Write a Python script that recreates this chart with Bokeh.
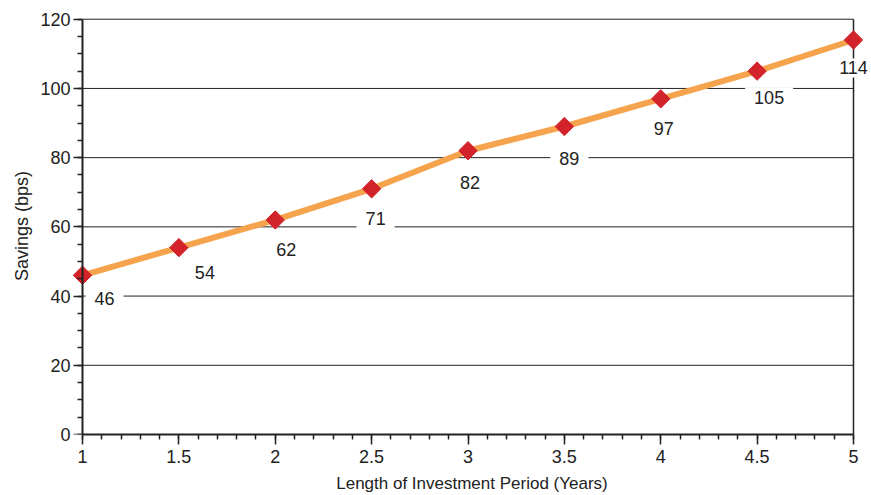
from bokeh.plotting import figure
from bokeh.models import ColumnDataSource, FixedTicker, Range1d, LinearAxis
from bokeh.embed import file_html
from bokeh.resources import INLINE
from bokeh.core.properties import value
import math

# ---- data ----
years = [1, 1.5, 2, 2.5, 3, 3.5, 4, 4.5, 5]
savings = [46, 54, 62, 71, 82, 89, 97, 105, 114]
labels = [str(v) for v in savings]
x_ticks = [1, 1.5, 2, 2.5, 3, 3.5, 4, 4.5, 5]
y_ticks = [0, 20, 40, 60, 80, 100, 120]
grid_levels = [20, 40, 60, 80, 100, 120]
x_title = "Length of Investment Period (Years)"
y_title = "Savings (bps)"

# label placement (screen pixel offsets from each point)
label_dx = [22, 26, 11, 4, 2, 5, 3, 12, 0]
label_dy = [23, 25, 30, 30, 32, 32, 30, 26, 28]

FONT = "Liberation Sans"
INK = "#222222"
X_MIN, X_MAX = years[0], years[-1]
Y_MIN, Y_MAX = y_ticks[0], y_ticks[-1]

# ranges padded slightly so edge markers/labels are not clipped by the frame
p = figure(width=871, height=495, output_backend="svg", toolbar_location=None,
           x_range=Range1d(X_MIN - 0.0519, X_MAX + 0.0934),
           y_range=Range1d(Y_MIN, Y_MAX + 0.5),
           min_border_left=72, min_border_right=0, min_border_top=17, min_border_bottom=59)

p.background_fill_color = "white"
p.border_fill_color = "white"
p.outline_line_color = None
p.xgrid.visible = False
p.ygrid.visible = False

# x axis
xa = p.xaxis[0]
xa.ticker = FixedTicker(ticks=x_ticks, minor_ticks=[X_MIN + i * 0.1 for i in range(41)])
xa.major_label_overrides = {1: "1", 2: "2", 3: "3", 4: "4", 5: "5"}
xa.bounds = (X_MIN, X_MAX)
xa.axis_line_color = INK
xa.axis_line_width = 2
xa.major_tick_line_color = INK
xa.minor_tick_line_color = INK
xa.major_tick_line_width = 1.5
xa.minor_tick_line_width = 1.5
xa.major_tick_in = 0
xa.minor_tick_in = 0
xa.major_tick_out = 10
xa.minor_tick_out = 5
xa.major_label_text_font = FONT
xa.major_label_text_font_size = "18px"
xa.major_label_text_color = INK
xa.major_label_standoff = 5
xa.axis_label = x_title
xa.axis_label_text_font = FONT
xa.axis_label_text_font_size = "17px"
xa.axis_label_text_font_style = "normal"
xa.axis_label_text_color = INK
xa.axis_label_standoff = 8

# y axis A: tick labels + title (line and ticks hidden)
ya = p.yaxis[0]
ya.ticker = FixedTicker(ticks=y_ticks)
ya.axis_line_color = None
ya.major_tick_line_color = None
ya.minor_tick_line_color = None
ya.major_tick_out = 0
ya.minor_tick_out = 0
ya.major_tick_in = 0
ya.minor_tick_in = 0
ya.major_label_text_font = FONT
ya.major_label_text_font_size = "18px"
ya.major_label_text_color = INK
ya.major_label_standoff = 2
ya.axis_label = y_title
ya.axis_label_text_font = FONT
ya.axis_label_text_font_size = "18px"
ya.axis_label_text_font_style = "normal"
ya.axis_label_text_color = INK
ya.axis_label_standoff = 5

# y axis line with short ticks every 5, drawn at x = 1 (no labels)
yb = LinearAxis(ticker=FixedTicker(ticks=[], minor_ticks=list(range(Y_MIN, Y_MAX + 1, 5))),
                fixed_location=X_MIN, bounds=(Y_MIN, Y_MAX),
                axis_line_color=INK, axis_line_width=2,
                major_tick_line_color=None, minor_tick_line_color=INK,
                minor_tick_line_width=1.5, major_tick_in=0, major_tick_out=0,
                minor_tick_in=0, minor_tick_out=5, major_label_standoff=0)
# longer ticks at the labelled values
yc = LinearAxis(ticker=FixedTicker(ticks=[], minor_ticks=y_ticks),
                fixed_location=X_MIN, bounds=(Y_MIN, Y_MAX),
                axis_line_color=None, major_tick_line_color=None,
                minor_tick_line_color=INK, minor_tick_line_width=1.5,
                major_tick_in=0, major_tick_out=0,
                minor_tick_in=0, minor_tick_out=9, major_label_standoff=0)
p.add_layout(yb, "left")
p.add_layout(yc, "left")

# horizontal rules and right border
p.segment(x0=[X_MIN] * len(grid_levels), x1=[X_MAX] * len(grid_levels),
          y0=grid_levels, y1=grid_levels, line_color=INK, line_width=1)
p.segment(x0=[X_MAX], x1=[X_MAX], y0=[Y_MIN], y1=[Y_MAX], line_color=INK, line_width=1.5)

src = ColumnDataSource(dict(x=years, y=savings, lab=labels, dx=label_dx, dy=label_dy))

p.line("x", "y", source=src, line_color="#F5A34C", line_width=6)
p.scatter("x", "y", source=src, marker="square", angle=math.pi / 4, size=13,
          fill_color="#D2232A", line_color="#D2232A")

p.text("x", "y", text="lab", source=src, x_offset="dx", y_offset="dy",
       text_font=value(FONT), text_font_size="18px", text_color=INK,
       text_align="center", text_baseline="middle",
       background_fill_color="white", padding=[9, 3])

open("out.html", "w").write(file_html(p, INLINE))
